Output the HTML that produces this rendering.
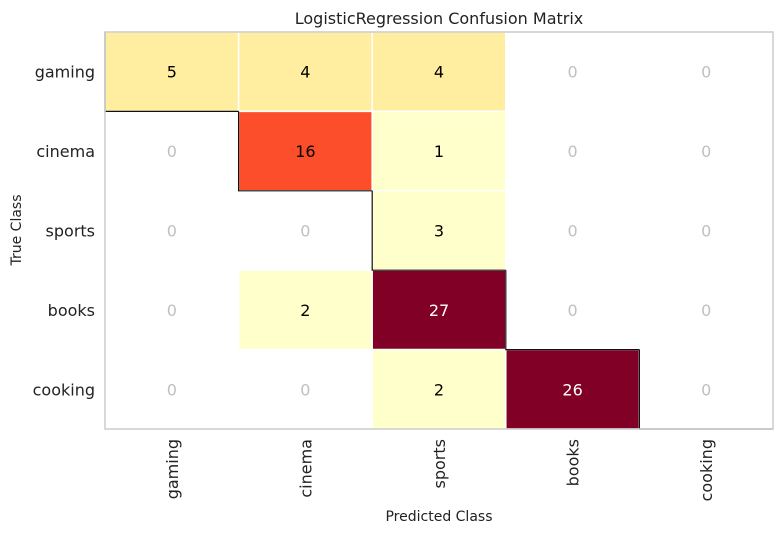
<!DOCTYPE html>
<html><head><meta charset="utf-8"><style>
html,body{margin:0;padding:0;background:#fff;}
svg text{font-family:"DejaVu Sans","Liberation Sans",sans-serif;}
</style></head><body>
<svg id="chart" width="784" height="534" viewBox="0 0 784 534" xmlns="http://www.w3.org/2000/svg">
<text x="439" y="24" font-size="16" text-anchor="middle" fill="#222">LogisticRegression Confusion Matrix</text>
<g id="cells"></g>
<g id="ticks"></g>
<rect x="105" y="32" width="668" height="397" fill="none" stroke="#ccc" stroke-width="1.5"/>
<text x="439" y="521" font-size="14" text-anchor="middle" fill="#222">Predicted Class</text>
<text x="21" y="230" font-size="14" text-anchor="middle" fill="#222" transform="rotate(-90 21 230)">True Class</text>
</svg>
<script>
const classes = ["gaming","cinema","sports","books","cooking"];
const matrix = [
  [5,4,4,0,0],
  [0,16,1,0,0],
  [0,0,3,0,0],
  [0,2,27,0,0],
  [0,0,2,26,0]
];
const palette = ["#ffffcc","#ffeda0","#fed976","#feb24c","#fd8d3c","#fc4e2a","#e31a1c","#bd0026","#800026"];
const X0=105,X1=773,Y0=32,Y1=429;
const cw=(X1-X0)/classes.length, ch=(Y1-Y0)/classes.length;
const xPos=c=>X0+c*cw, yPos=r=>Y0+r*ch;
const maxV=Math.max(...matrix.flat());
const NS="http://www.w3.org/2000/svg";
const cells=document.getElementById('cells'), ticks=document.getElementById('ticks');
function mk(tag,attrs,parent){const e=document.createElementNS(NS,tag);for(const k in attrs)e.setAttribute(k,attrs[k]);parent.appendChild(e);return e;}
matrix.forEach((row,r)=>row.forEach((v,c)=>{
  const x=xPos(c),y=yPos(r);
  let fill="#fff";
  if(v>0){const idx=Math.min(8,Math.floor(v/maxV*8*1.06));fill=palette[idx];}
  const rect=mk('rect',{x:x,y:y,width:cw,height:ch,fill:fill,stroke:"#fff","stroke-width":1.5},cells);
  
  
  const t=mk('text',{x:x+cw/2,y:y+ch/2+6,"font-size":16,"text-anchor":"middle",fill: v===0?"#c0c0c0":(v/maxV>0.8?"#fff":"#000")},cells);
  t.textContent=v;
  
  
}));
classes.forEach((cl,i)=>{
  const x=xPos(i),y=yPos(i);
  const p=mk('path',{d:`M${x} ${y} L${x} ${y+ch} L${x+cw} ${y+ch}`,fill:"none",stroke:"#111","stroke-width":1.2},cells);
  
  
  const yl=mk('text',{x:95,y:y+ch/2+6,"font-size":16,"text-anchor":"end",fill:"#222"},ticks);
  yl.textContent=cl;
  
  
  const cx=x+cw/2+6;
  const xl=mk('text',{x:cx,y:439,"font-size":16,"text-anchor":"end",fill:"#222",transform:`rotate(-90 ${cx} 439)`},ticks);
  xl.textContent=cl;
  
  
});
</script>
</body></html>
